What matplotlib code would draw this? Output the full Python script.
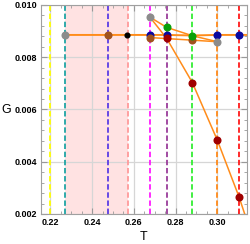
"""Phase-branch chart G versus T with marker lines at the transition temperatures."""

import matplotlib

matplotlib.use("Agg")
import matplotlib.pyplot as plt
from matplotlib.ticker import MultipleLocator

plt.rcParams["font.family"] = ["Liberation Sans", "DejaVu Sans"]

# vertical reference temperatures and their colours
line_T = [0.2200, 0.2269, 0.2474, 0.2573, 0.2677, 0.2757, 0.2880, 0.3000, 0.3104]
line_colors = ["#ffff00", "#1fa5a5", "#5a3ce6", "#ff9a9a", "#ff1aff",
               "#9a3d9a", "#33ee33", "#ff8a1a", "#ff1a1a"]
shade_T = (0.2269, 0.2573)

# branches (orange polylines)
flat_T = [0.2269, 0.2474, 0.2568, 0.2677, 0.2757, 0.2880, 0.3000, 0.3104, 0.3200]
flat_G = [0.00885, 0.00885, 0.00885, 0.00885, 0.00885, 0.00883, 0.00885, 0.00885, 0.00885]
upper_T = [0.2677, 0.2757, 0.2880, 0.3000]
upper_G = [0.00953, 0.00914, 0.00882, 0.00859]
lower_T = [0.2677, 0.2880, 0.3000]
lower_G = [0.00875, 0.00865, 0.00859]
drop_T = [0.2677, 0.2757, 0.2880, 0.3000, 0.3104, 0.3160]
drop_G = [0.00953, 0.00872, 0.00703, 0.00482, 0.00265, 0.00130]

# highlighted points
pts_T = [0.2269, 0.2474, 0.2677, 0.2677, 0.2677, 0.2757, 0.2757, 0.2757,
         0.2880, 0.2880, 0.2880, 0.3000, 0.3000, 0.3000, 0.3104, 0.3104]
pts_G = [0.00885, 0.00885, 0.00885, 0.00875, 0.00953, 0.00885, 0.00914, 0.00872,
         0.00865, 0.00882, 0.00703, 0.00885, 0.00859, 0.00482, 0.00885, 0.00265]
pts_colors = ["#8c8c8c", "#a0521e", "#0a0aa0", "#a0521e", "#8c8c8c", "#0a0aa0",
              "#0aa00a", "#a00000", "#a0521e", "#0aa00a", "#a00000", "#0a0aa0",
              "#8c8c8c", "#a00000", "#0a0aa0", "#a00000"]
black_T = [0.2568]
black_G = [0.00885]

fig = plt.figure(figsize=(2.5, 2.44), dpi=100)
ax = fig.add_axes([0.164, 0.123, 0.824, 0.857])

ax.axvspan(*shade_T, color="#ffe2e2", lw=0, zorder=0)
ax.grid(True, color="#d6d6d6", lw=0.9, zorder=0.5)
ax.set_axisbelow(True)

for t, c in zip(line_T, line_colors):
    ax.axvline(t, color=c, lw=1.3, ls=(0, (3, 1.5)), zorder=1)

orange = "#ff8c1a"
ax.plot(flat_T, flat_G, color=orange, lw=1.4, zorder=2)
ax.plot(upper_T, upper_G, color=orange, lw=1.1, zorder=2)
ax.plot(lower_T, lower_G, color=orange, lw=1.1, zorder=2)
ax.plot(drop_T, drop_G, color=orange, lw=1.1, zorder=2)

for t, g, c in zip(pts_T, pts_G, pts_colors):
    ax.plot(t, g, "o", color=c, ms=5.8, mec="none", zorder=3)
ax.plot(black_T, black_G, "o", color="black", ms=3.4, zorder=3)

ax.set_xlim(0.2155, 0.3142)
ax.set_ylim(0.002, 0.010)
ax.xaxis.set_major_locator(MultipleLocator(0.02))
ax.xaxis.set_minor_locator(MultipleLocator(0.005))
ax.yaxis.set_major_locator(MultipleLocator(0.002))
ax.yaxis.set_minor_locator(MultipleLocator(0.0004))
ax.set_xticks([0.22, 0.24, 0.26, 0.28, 0.30])
ax.set_xticklabels(["0.22", "0.24", "0.26", "0.28", "0.30"])
ax.set_yticks([0.002, 0.004, 0.006, 0.008, 0.010])
ax.set_yticklabels(["0.002", "0.004", "0.006", "0.008", "0.010"])
ax.tick_params(which="both", direction="in", color="#999999", labelsize=6.5, pad=3)
ax.tick_params(which="major", length=4, width=0.8)
ax.tick_params(which="minor", length=2, width=0.6)
ax.tick_params(top=True, right=True, which="both", labeltop=False, labelright=False)
for lab in ax.get_xticklabels() + ax.get_yticklabels():
    lab.set_fontweight("bold")
for s in ax.spines.values():
    s.set_color("#a0a0a0")
    s.set_linewidth(0.8)

# axis names placed like the reference
fig.text(144 / 250, 1 - 237 / 244, "T", fontsize=9, ha="center", va="center")
fig.text(6 / 250, 1 - 110 / 244, "G", fontsize=9, ha="center", va="center")

fig.savefig("out.png", dpi=100)
